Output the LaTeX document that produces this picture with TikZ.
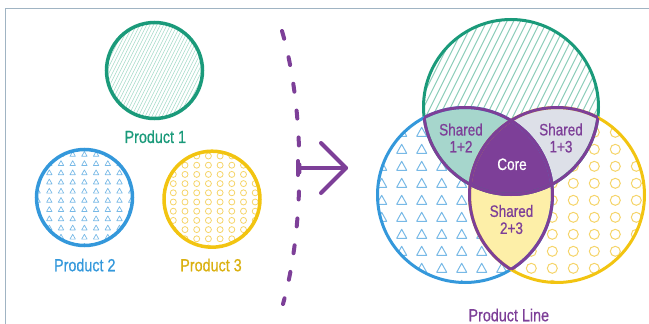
\documentclass[tikz,border=0pt]{standalone}
\usepackage{fontspec}
\setmainfont{Liberation Sans}[FakeStretch=0.82,FakeBold=0.7]
\definecolor{grn}{RGB}{26,154,122}
\definecolor{blu}{RGB}{52,152,219}
\definecolor{yel}{RGB}{242,196,17}
\definecolor{pur}{RGB}{125,63,152}
\definecolor{frm}{RGB}{160,180,195}
\definecolor{hatchc}{RGB}{140,205,185}
\definecolor{shatchc}{RGB}{165,218,200}
\definecolor{tric}{RGB}{120,185,230}
\definecolor{circc}{RGB}{245,212,105}
\definecolor{fot}{RGB}{166,214,204}
\definecolor{fott}{RGB}{221,224,232}
\definecolor{ftt}{RGB}{253,239,168}
\begin{document}
\begin{tikzpicture}[x=1pt,y=-1pt,
  plbl/.style={inner sep=0pt, font=\fontsize{17.5}{18}\selectfont},
  vlbl/.style={inner sep=0pt, align=center, font=\fontsize{16.5}{17}\selectfont, text=pur},
  ring/.style={line width=3pt},
  sring/.style={line width=3.5pt},
  pline/.style={pur, line width=4pt, line cap=round, line join=round}]
\useasboundingbox (0,0) rectangle (649,324);
\draw[frm, line width=1pt] (5,324) -- (5,8) -- (649,8);

% ---------- small circles ----------
\coordinate (p1) at (154.5,70.5);
\coordinate (p2) at (84.5,197.5);
\coordinate (p3) at (212,199.2);
\begin{scope}
  \clip (p1) circle (48pt);
  \foreach \i in {-45,...,45}
    \draw[shatchc, line width=0.55pt] ({154.5+\i*3.4-40},150.5) -- ({154.5+\i*3.4+40},-9.5);
\end{scope}
\begin{scope}
  \clip (p2) circle (48pt);
  \foreach \c in {-2,...,8}
    \foreach \r in {-2,...,10}
      \draw[tric, line width=0.7pt, line join=round] ({49.3+\c*11.7-2.7},{154+\r*9.2+2.3}) -- ++(5.4,0) -- ++(-2.7,-4.8) -- cycle;
\end{scope}
\begin{scope}
  \clip (p3) circle (48pt);
  \foreach \c in {-2,...,8}
    \foreach \r in {-2,...,10}
      \draw[circc, line width=0.8pt] ({173.3+\c*11.7},{156+\r*9.2}) circle (3pt);
\end{scope}
\draw[sring, grn] (p1) circle (48pt);
\draw[sring, blu] (p2) circle (48pt);
\draw[sring, yel] (p3) circle (48pt);
\node[plbl, text=grn] (l1) at (155.3,136.7) {Product 1};
\node[plbl, text=blu] (l2) at (84.8,265) {Product 2};
\node[plbl, text=yel!90!black] (l3) at (211,265) {Product 3};

% ---------- dashed divider and arrow ----------
\coordinate (d1) at (282,31);
\coordinate (d2) at (305,110);
\coordinate (d3) at (305,225);
\coordinate (d4) at (283,304);
\draw[pur, line width=4pt, line cap=round, dash pattern=on 8pt off 19pt] (d1) .. controls (d2) and (d3) .. (d4);
\coordinate (a0) at (298,161);
\coordinate (a1) at (298,175);
\coordinate (a2) at (298,168);
\coordinate (tip) at (346,168);
\coordinate (c1) at (321,143);
\coordinate (c2) at (321,193);
\draw[pline] (a0) -- (a1);
\draw[pline] (a2) -- (tip);
\draw[pline] (c1) -- (tip) -- (c2);

% ---------- Venn ----------
\def\R{87.5pt}
\coordinate (g) at (511,107);
\coordinate (b) at (465,195);
\coordinate (y) at (557,195);
\begin{scope}
  \clip (g) circle (\R);
  \foreach \i in {-30,...,30}
    \draw[hatchc, line width=1pt] ({511+\i*6.7-95},297) -- ({511+\i*6.7+95},-83);
\end{scope}
\begin{scope}
  \clip (b) circle (\R);
  \foreach \c in {-1,...,9}
    \foreach \r in {-6,...,6}
      \draw[tric, line width=1pt, line join=round] ({381.7+\c*20-5},{183.3+\r*17+4}) -- ++(10,0) -- ++(-5,-9) -- cycle;
\end{scope}
\begin{scope}
  \clip (y) circle (\R);
  \foreach \c in {-5,...,4}
    \foreach \r in {-6,...,6}
      \draw[circc, line width=1pt] ({573.3+\c*21},{183.3+\r*17}) circle (5pt);
\end{scope}
\begin{scope}\clip (g) circle (\R); \fill[fot] (b) circle (\R); \end{scope}
\begin{scope}\clip (g) circle (\R); \fill[fott] (y) circle (\R); \end{scope}
\begin{scope}\clip (b) circle (\R); \fill[ftt] (y) circle (\R); \end{scope}
\begin{scope}\clip (g) circle (\R); \clip (b) circle (\R); \fill[pur] (y) circle (\R); \end{scope}
\draw[ring, grn] (g) circle (\R);
\draw[ring, blu] (b) circle (\R);
\draw[ring, yel] (y) circle (\R);
\begin{scope}\clip (b) circle (\R); \draw[ring, pur] (g) circle (\R); \draw[ring, pur] (y) circle (\R); \end{scope}
\begin{scope}\clip (g) circle (\R); \draw[ring, pur] (b) circle (\R); \draw[ring, pur] (y) circle (\R); \end{scope}
\begin{scope}\clip (y) circle (\R); \draw[ring, pur] (g) circle (\R); \draw[ring, pur] (b) circle (\R); \end{scope}

\node[vlbl] (s12) at (461,138) {Shared\\1+2};
\node[vlbl] (s13) at (561,138) {Shared\\1+3};
\node[vlbl, text=white] (core) at (512,164.3) {Core};
\node[vlbl] (s23) at (511.5,219.5) {Shared\\2+3};
\node[plbl, text=pur] (pl) at (508.8,315) {Product Line};
\end{tikzpicture}
\end{document}
